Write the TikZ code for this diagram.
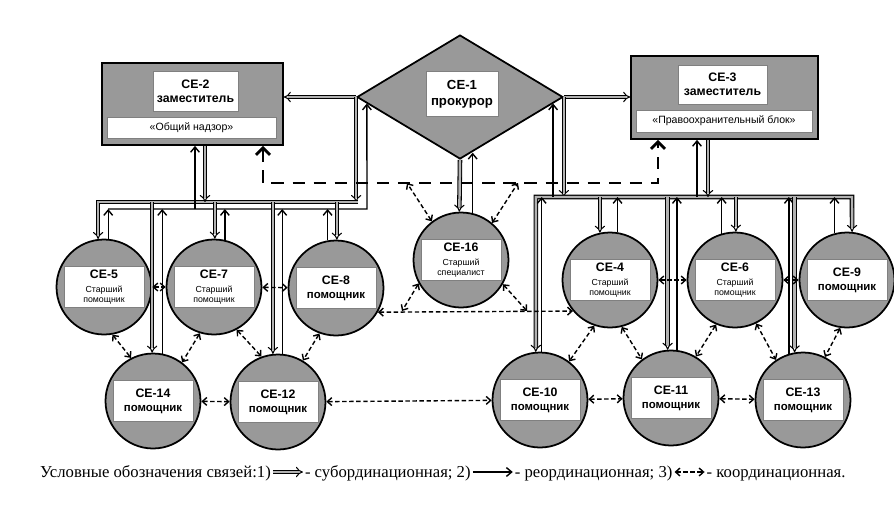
\documentclass[tikz,border=0pt]{standalone}
\usepackage{fontspec}
\setmainfont{Liberation Sans}
\newfontfamily\legendfont{Liberation Serif}
\usetikzlibrary{arrows.meta,shapes.geometric,positioning}

\tikzset{
  unit/.style={circle, draw, line width=1pt, fill=black!40, minimum size=1.9cm, inner sep=0pt},
  lab/.style={fill=white, draw=black!50, line width=0.3pt, minimum width=1.6cm, minimum height=0.82cm,
    inner sep=0pt, align=center, font=\fontsize{7}{8}\selectfont\bfseries},
  block/.style={draw, line width=1pt, fill=black!40, inner sep=0pt},
  sub/.style={draw, line width=0.6pt, double=black!30, double distance=1.4pt, -{Implies}},
  reo/.style={line width=0.8pt, -{Straight Barb[length=3pt,width=5pt]}},
  coord/.style={line width=0.8pt, dash pattern=on 2.5pt off 1.5pt,
    {Straight Barb[length=2.5pt,width=4.5pt]}-{Straight Barb[length=2.5pt,width=4.5pt]}},
  bigdash/.style={line width=1.6pt, dash pattern=on 7pt off 5pt,
    {Straight Barb[length=4pt,width=8pt]}-{Straight Barb[length=4pt,width=8pt]}},
  legtext/.style={font=\legendfont\fontsize{9.5}{11}\selectfont, inner sep=1pt, text height=1.7ex, text depth=0.5ex},
}
\newcommand{\minor}{\fontsize{5}{5.8}\selectfont\mdseries}
\newcommand{\pomo}{\fontsize{6.5}{7.5}\selectfont}

\begin{document}
\begin{tikzpicture}[x=0.02cm, y=-0.02cm]
    \useasboundingbox (0,0) rectangle (894,508);

    % CE-2
    \node[block, minimum width=3.62cm, minimum height=1.64cm] (ce2) at (192.5,104) {};
    \node[lab, minimum width=1.7cm, minimum height=0.8cm] (ce2t) at (195.5,91) {СЕ-2\\заместитель};
    \node[lab, font=\fontsize{6}{7}\selectfont, minimum width=3.38cm, minimum height=0.42cm] (ce2b) at (191.5,127.5) {«Общий надзор»};

    % CE-3
    \node[block, minimum width=3.74cm, minimum height=1.66cm] (ce3) at (724.5,97.5) {};
    \node[lab, minimum width=1.78cm, minimum height=0.78cm] (ce3t) at (722.5,84.5) {СЕ-3\\заместитель};
    \node[lab, font=\fontsize{6}{7}\selectfont, minimum width=3.52cm, minimum height=0.44cm] (ce3b) at (724,121) {«Правоохранительный блок»};

    % CE-1
    \node[diamond, draw, line width=1pt, fill=black!40, minimum width=4.12cm, minimum height=2.48cm, inner sep=0pt] (ce1) at (460,97) {};
    \node[lab, minimum width=1.44cm, minimum height=0.9cm, font=\fontsize{7.5}{9}\selectfont\bfseries] (ce1t) at (462,94) {СЕ-1\\прокурор};

    % units
    \node[unit] (ce5) at (104,287) {};
    \node[lab] (ce5t) at (ce5) {СЕ-5\\\minor Старший\\[-2pt]\minor помощник};
    \node[unit] (ce7) at (214,287) {};
    \node[lab] (ce7t) at (ce7) {СЕ-7\\\minor Старший\\[-2pt]\minor помощник};
    \node[unit] (ce8) at (336,288) {};
    \node[lab] (ce8t) at (ce8) {СЕ-8\\\pomo помощник};
    \node[unit] (ce14) at (153,401) {};
    \node[lab] (ce14t) at (ce14) {СЕ-14\\\pomo помощник};
    \node[unit] (ce12) at (278,402) {};
    \node[lab] (ce12t) at (ce12) {СЕ-12\\\pomo помощник};
    \node[unit] (ce16) at (461,260) {};
    \node[lab] (ce16t) at (ce16) {СЕ-16\\\minor Старший\\[-2pt]\minor специалист};
    \node[unit] (ce4) at (610,280) {};
    \node[lab] (ce4t) at (ce4) {СЕ-4\\\minor Старший\\[-2pt]\minor помощник};
    \node[unit] (ce6) at (735,280) {};
    \node[lab] (ce6t) at (ce6) {СЕ-6\\\minor Старший\\[-2pt]\minor помощник};
    \node[unit] (ce9) at (847,280) {};
    \node[lab] (ce9t) at (ce9) {СЕ-9\\\pomo помощник};
    \node[unit] (ce10) at (540,400) {};
    \node[lab] (ce10t) at (ce10) {СЕ-10\\\pomo помощник};
    \node[unit] (ce11) at (671,398) {};
    \node[lab] (ce11t) at (ce11) {СЕ-11\\\pomo помощник};
    \node[unit] (ce13) at (803,400) {};
    \node[lab] (ce13t) at (ce13) {СЕ-13\\\pomo помощник};

    % bus points
    \coordinate (lbe) at (358,202);
    \coordinate (lbl) at (367,209);
    \coordinate (rbe) at (852,197);
    \coordinate (x2u) at (195,209);
    \coordinate (x2d) at (205,202);
    \coordinate (x3u) at (697,197);
    \coordinate (x3d) at (708,197);
    \coordinate (dl) at (263,183);
    \coordinate (dr) at (658,183);

    % left group
    \draw[sub] (ce1.west) -- (ce2.east |- ce1.west);
    \draw[sub] (ce1.west) -- (ce1.west |- lbe);
    \draw[sub] (lbe) -- (lbe -| ce5.97) -- (ce5.97);
    \draw[reo] (ce5.85 |- lbl) -- (lbl) -- (ce1.184);
    \draw[sub] (ce2.south -| x2d) -- (x2d);
    \draw[reo] (x2u) -- (ce2.south -| x2u);
    \draw[reo] (ce5.85) -- (ce5.85 |- lbl);
    \draw[sub] (ce14.91 |- lbe) -- (ce14.91);
    \draw[reo] (ce14.79) -- (ce14.79 |- lbl);
    \draw[sub] (ce7.89 |- lbe) -- (ce7.89);
    \draw[reo] (ce7.77) -- (ce7.77 |- lbl);
    \draw[sub] (ce12.96 |- lbe) -- (ce12.96);
    \draw[reo] (ce12.85) -- (ce12.85 |- lbl);
    \draw[reo] (ce8.100) -- (ce8.100 |- lbl);
    \draw[sub] (ce8.89 |- lbe) -- (ce8.89);

    % right group
    \draw[sub] (ce1.east) -- (ce3.west |- ce1.east);
    \draw[sub] (ce1.east) -- (ce1.east |- rbe);
    \draw[sub, {Implies}-{Implies}] (ce10.95) |- (rbe) -- (ce9.84);
    \draw[reo] (ce1.-4 |- rbe) -- (ce1.-4);
    \draw[reo] (x3u) -- (ce3.south -| x3u);
    \draw[sub] (ce3.south -| x3d) -- (x3d);
    \draw[reo] (ce10.88) -- (ce10.88 |- rbe);
    \draw[sub] (ce4.102 |- rbe) -- (ce4.102);
    \draw[reo] (ce4.81) -- (ce4.81 |- rbe);
    \draw[sub] (ce11.94 |- rbe) -- (ce11.94);
    \draw[reo] (ce11.83) -- (ce11.83 |- rbe);
    \draw[reo] (ce6.106) -- (ce6.106 |- rbe);
    \draw[sub] (ce6.89 |- rbe) -- (ce6.89);
    \draw[reo] (ce13.107) -- (ce13.107 |- rbe);
    \draw[sub] (ce13.100 |- rbe) -- (ce13.100);
    \draw[reo] (ce9.105) -- (ce9.105 |- rbe);

    % CE-16
    \draw[sub] (ce1.south) -- (ce16.92);
    \draw[reo] (ce16.76) -- (ce16.76 |- ce1.-78);

    % coordination
    \draw[bigdash] (ce2.south -| dl) -- (dl) -- (dr) -- (ce3.south -| dr);
    \coordinate (d16a) at (407,183);
    \coordinate (d16b) at (518,183);
    \coordinate (h16a) at (402,311);
    \coordinate (h16b) at (527,311);
    \draw[coord] (ce16.127) -- (d16a);
    \draw[coord] (ce16.50) -- (d16b);
    \draw[coord] (ce16.209) -- (h16a);
    \draw[coord] (ce16.330) -- (h16b);
    \draw[coord] (ce8.330) -- (ce4.220);
    \draw[coord] (ce12) -- (ce10);
    \draw[coord] (ce5) -- (ce7);
    \draw[coord] (ce7) -- (ce8);
    \draw[coord] (ce14) -- (ce12);
    \draw[coord] (ce4) -- (ce6);
    \draw[coord] (ce6) -- (ce9);
    \draw[coord] (ce10) -- (ce11);
    \draw[coord] (ce11) -- (ce13);
    \draw[coord] (ce5.-80) -- (ce14.117);
    \draw[coord] (ce7.253) -- (ce14.53);
    \draw[coord] (ce7.-62) -- (ce12.110);
    \draw[coord] (ce8.250) -- (ce12.59);
    \draw[coord] (ce4.-109) -- (ce10.53);
    \draw[coord] (ce4.-76) -- (ce11.127);
    \draw[coord] (ce6.247) -- (ce11.59);
    \draw[coord] (ce6.-64) -- (ce13.124);
    \draw[coord] (ce9.-98) -- (ce13.63);

    % legend
    \node[legtext, anchor=west] (lg1) at (38,472) {Условные обозначения связей:1)};
    \node[legtext, right=0.6cm of lg1] (lg2) {- субординационная; 2)};
    \node[legtext, right=0.8cm of lg2] (lg3) {- реординационная; 3)};
    \node[legtext, right=0.6cm of lg3] (lg4) {- координационная.};
    \draw[sub] (lg1) -- (lg2);
    \draw[reo] (lg2) -- (lg3);
    \draw[coord] (lg3) -- (lg4);
\end{tikzpicture}
\end{document}
